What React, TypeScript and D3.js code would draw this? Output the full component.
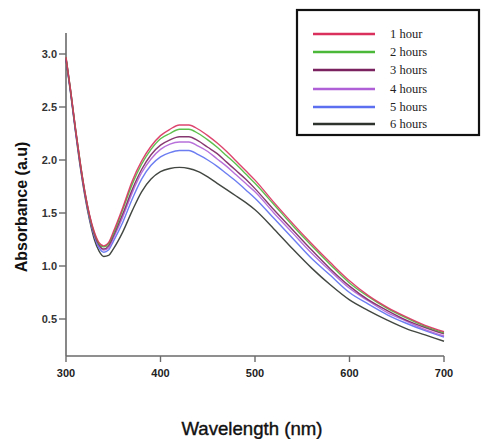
import React from "react";
import * as d3 from "d3";

const wavelengths = [300, 305, 310, 315, 320, 325, 330, 335, 340, 345, 350, 360, 370, 380, 390, 400, 410, 420, 430, 440, 450, 460, 470, 480, 490, 500, 520, 540, 560, 580, 600, 620, 640, 660, 680, 700];

const hour1 = [2.97, 2.65, 2.30, 1.98, 1.70, 1.48, 1.32, 1.22, 1.19, 1.22, 1.32, 1.55, 1.80, 1.99, 2.13, 2.23, 2.29, 2.33, 2.33, 2.29, 2.23, 2.16, 2.08, 1.99, 1.90, 1.81, 1.60, 1.40, 1.21, 1.03, 0.86, 0.72, 0.61, 0.52, 0.44, 0.38];
const hours2 = [2.97, 2.65, 2.30, 1.98, 1.70, 1.47, 1.31, 1.21, 1.18, 1.21, 1.30, 1.53, 1.77, 1.96, 2.10, 2.20, 2.25, 2.29, 2.29, 2.25, 2.19, 2.12, 2.04, 1.96, 1.87, 1.78, 1.58, 1.38, 1.19, 1.01, 0.84, 0.71, 0.60, 0.51, 0.43, 0.37];
const hours3 = [2.96, 2.64, 2.29, 1.97, 1.69, 1.47, 1.30, 1.20, 1.16, 1.19, 1.28, 1.49, 1.72, 1.91, 2.05, 2.14, 2.19, 2.22, 2.22, 2.18, 2.12, 2.06, 1.98, 1.90, 1.82, 1.73, 1.53, 1.34, 1.15, 0.97, 0.81, 0.68, 0.58, 0.49, 0.42, 0.36];
const hours4 = [2.96, 2.64, 2.29, 1.96, 1.68, 1.46, 1.29, 1.19, 1.15, 1.17, 1.26, 1.46, 1.69, 1.88, 2.01, 2.10, 2.15, 2.17, 2.17, 2.13, 2.08, 2.01, 1.94, 1.86, 1.78, 1.70, 1.50, 1.31, 1.12, 0.95, 0.79, 0.67, 0.56, 0.48, 0.40, 0.34];
const hours5 = [2.96, 2.63, 2.28, 1.96, 1.68, 1.45, 1.28, 1.17, 1.13, 1.15, 1.23, 1.41, 1.63, 1.82, 1.95, 2.03, 2.07, 2.09, 2.09, 2.05, 2.00, 1.94, 1.87, 1.80, 1.72, 1.64, 1.45, 1.26, 1.07, 0.91, 0.75, 0.64, 0.54, 0.46, 0.39, 0.33];
const hours6 = [2.95, 2.62, 2.27, 1.94, 1.66, 1.43, 1.25, 1.14, 1.09, 1.10, 1.16, 1.32, 1.52, 1.70, 1.82, 1.89, 1.92, 1.93, 1.92, 1.89, 1.84, 1.78, 1.72, 1.66, 1.60, 1.53, 1.35, 1.16, 0.98, 0.82, 0.68, 0.58, 0.49, 0.41, 0.35, 0.29];

const seriesNames = ["1 hour", "2 hours", "3 hours", "4 hours", "5 hours", "6 hours"];
const seriesValues = [hour1, hours2, hours3, hours4, hours5, hours6];
const seriesColors = ["#d9305e", "#4cb83a", "#7a2260", "#b060d6", "#5b6ff0", "#2e332e"];

const xTicks = [300, 400, 500, 600, 700];
const yTicks = [0.5, 1.0, 1.5, 2.0, 2.5, 3.0];

export default function App() {
  const W = 482, H = 439;
  const x = d3.scaleLinear().domain([300, 700]).range([66, 444]);
  const y = d3.scaleLinear().domain([0.5, 3.0]).range([319, 54]);
  const axisBottomY = 356;
  const axisTopY = 33;
  const line = d3
    .line<number>()
    .x((_, i) => x(wavelengths[i]))
    .y((v) => y(v))
    .curve(d3.curveMonotoneX);

  const legendX = 297, legendY = 10, legendW = 182, legendH = 125;
  const rowY = [34, 52, 70, 89, 107, 124];

  return (
    <svg
      width={W}
      height={H}
      style={{ position: "absolute", left: 0, top: 0, background: "#fff" }}
      fontFamily="'Liberation Sans', Arial, sans-serif"
    >
      <rect x={0} y={0} width={W} height={H} fill="#fff" />
      {/* axes */}
      <line x1={66} x2={66} y1={axisTopY} y2={axisBottomY} stroke="#6a6a6a" strokeWidth={1.6} />
      <line x1={66} x2={444} y1={axisBottomY} y2={axisBottomY} stroke="#6a6a6a" strokeWidth={1.6} />
      {yTicks.map((t) => (
        <g key={"y" + t}>
          <line x1={59} x2={66} y1={y(t)} y2={y(t)} stroke="#6a6a6a" strokeWidth={1.4} />
          <text x={57} y={y(t)} dy="0.35em" textAnchor="end" fontSize={11} fontWeight="bold" fill="#333">
            {t.toFixed(1)}
          </text>
        </g>
      ))}
      {xTicks.map((t) => (
        <g key={"x" + t}>
          <line x1={x(t)} x2={x(t)} y1={axisBottomY} y2={axisBottomY + 6} stroke="#6a6a6a" strokeWidth={1.4} />
          <text x={x(t)} y={377} textAnchor="middle" fontSize={11} fontWeight="bold" fill="#222">
            {t}
          </text>
        </g>
      ))}
      {/* curves */}
      {seriesValues
        .map((vals, i) => ({ vals, i }))
        .reverse()
        .map(({ vals, i }) => (
          <path key={i} d={line(vals) || ""} fill="none" stroke={seriesColors[i]} strokeWidth={1.4} opacity={0.9} />
        ))}
      {/* axis titles */}
      <text
        transform={`translate(27,207) rotate(-90)`}
        textAnchor="middle"
        fontSize={16}
        fontWeight="bold"
        fill="#111"
      >
        Absorbance (a.u)
      </text>
      <text x={252} y={435} textAnchor="middle" fontSize={19} fill="#111" stroke="#111" strokeWidth={0.4} textLength={141} lengthAdjust="spacingAndGlyphs">
        Wavelength (nm)
      </text>
      {/* legend */}
      <rect x={legendX} y={legendY} width={legendW} height={legendH} fill="#fff" stroke="#111" strokeWidth={2.2} />
      {seriesNames.map((n, i) => (
        <g key={n}>
          <line x1={313} x2={375} y1={rowY[i]} y2={rowY[i]} stroke={seriesColors[i]} strokeWidth={2.4} />
          <text x={390} y={rowY[i]} dy="0.33em" fontSize={12.5} fontFamily="'Liberation Serif', 'Times New Roman', serif" fill="#222">
            {n}
          </text>
        </g>
      ))}
    </svg>
  );
}
